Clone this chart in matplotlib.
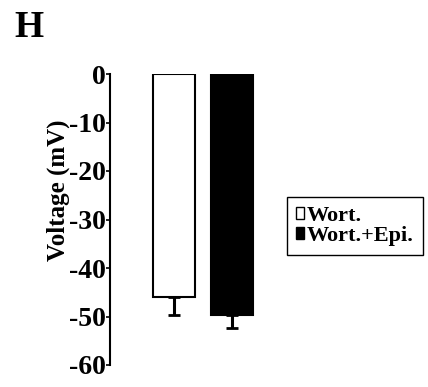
import matplotlib
matplotlib.use("Agg")
import matplotlib.pyplot as plt
from matplotlib.patches import Patch

groups = ["Wort.", "Wort.+Epi."]
means = [-46.0, -49.7]
errs = [3.6, 2.7]
colors = ["white", "black"]
yticks = [0, -10, -20, -30, -40, -50, -60]

plt.rcParams.update({
    "font.family": "serif",
    "font.serif": ["Liberation Serif", "DejaVu Serif"],
    "font.weight": "bold",
})

fig = plt.figure(figsize=(4.28, 3.87), dpi=100)
ax = fig.add_axes([110 / 428, 22 / 387, 160 / 428, 291 / 387])

x = range(len(groups))
ax.bar(x, means, width=0.72, color=colors, edgecolor="black", linewidth=1.5)
ax.errorbar(x, means, yerr=[errs, [0, 0]], fmt="none", ecolor="black",
            elinewidth=2.2, capsize=4, capthick=2)

ax.set_xlim(-1.103, 1.655)
ax.set_ylim(-60, 0)
ax.set_yticks(yticks)
ax.set_yticklabels([str(t) for t in yticks], fontsize=20, fontweight="bold")
ax.tick_params(axis="y", direction="out", length=3, width=1.2, pad=0)
ax.set_xticks([])
for s in ["top", "right", "bottom"]:
    ax.spines[s].set_visible(False)
ax.spines["left"].set_linewidth(1.5)
ax.set_ylabel("Voltage (mV)", fontsize=18, fontweight="bold")
ax.yaxis.set_label_coords(-0.25, 0.6)

handles = [Patch(facecolor=c, edgecolor="black", linewidth=1) for c in colors]
fig.legend(handles, groups, loc="upper left", bbox_to_anchor=(287 / 428, 1 - 197 / 387),
           prop={"size": 16, "weight": "bold"}, handlelength=0.35, handleheight=0.5,
           handletextpad=0.15, labelspacing=0.0, borderpad=0.4, borderaxespad=0,
           fancybox=False, edgecolor="black", framealpha=1)

fig.text(14 / 428, 1 - 37 / 387, "H", fontsize=27, fontweight="bold")

fig.savefig("out.png", dpi=100)
